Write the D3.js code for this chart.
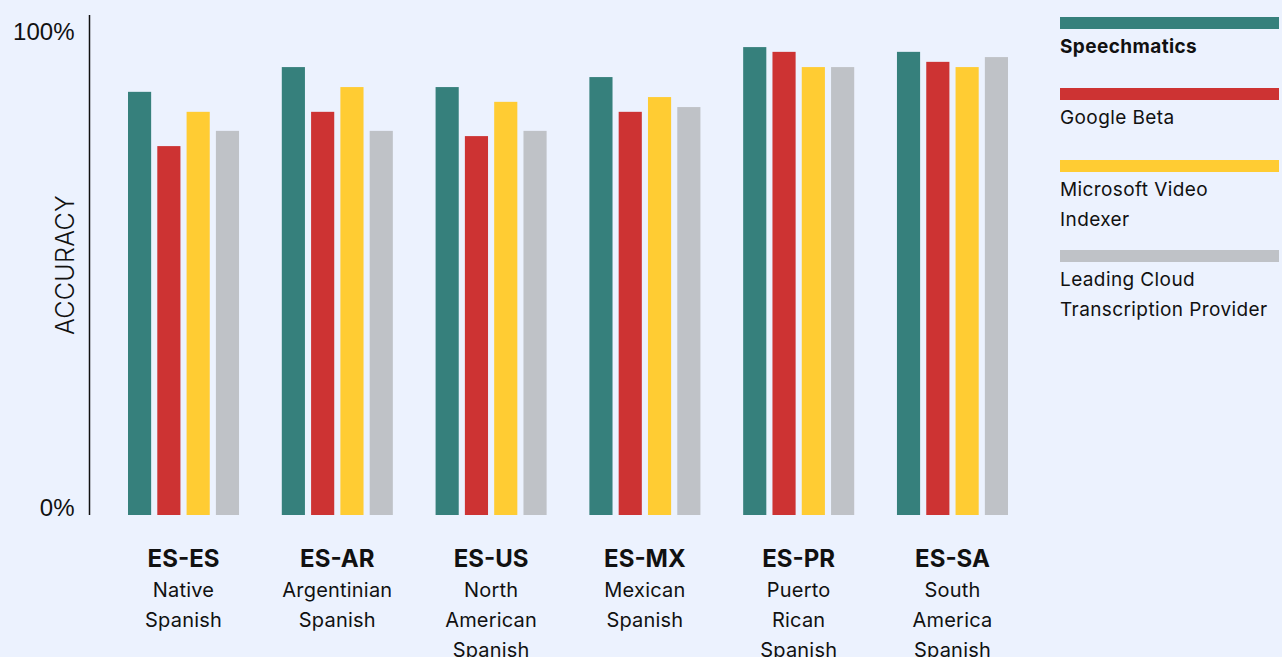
<!DOCTYPE html>
<html>
<head>
<meta charset="utf-8">
<script src="https://cdn.jsdelivr.net/npm/d3@7"></script>
<style>
  body { margin: 0; background: #ecf2fe; }
  svg { display: block; font-family: Inter, "Noto Sans", sans-serif; }
  .tick-label { font-size: 24px; font-weight: 300; fill: #111; }
  .axis-title { font-size: 25px; font-weight: 300; fill: #111; letter-spacing: 0.3px; }
  .code { font-size: 24px; font-weight: 700; fill: #111; }
  .sub { font-size: 20px; fill: #111; letter-spacing: 0.2px; }
  .legend { font-size: 19px; fill: #111; letter-spacing: 0.4px; }
</style>
</head>
<body>
<svg width="1282" height="657"></svg>
<script>

// dialect codes and their names
var codes = ["ES-ES", "ES-AR", "ES-US", "ES-MX", "ES-PR", "ES-SA"];
var names = [
  ["Native", "Spanish"],
  ["Argentinian", "Spanish"],
  ["North", "American", "Spanish"],
  ["Mexican", "Spanish"],
  ["Puerto", "Rican", "Spanish"],
  ["South", "America", "Spanish"]
];

// series, accuracy in percent
var providers = ["Speechmatics", "Google Beta", "Microsoft Video Indexer", "Leading Cloud Transcription Provider"];
var legendLines = [["Speechmatics"], ["Google Beta"], ["Microsoft Video", "Indexer"], ["Leading Cloud", "Transcription Provider"]];
var speechmatics = [88.9, 94.1, 89.9, 92.0, 98.3, 97.3];
var googleBeta   = [77.5, 84.7, 79.6, 84.7, 97.3, 95.2];
var microsoft    = [84.7, 89.9, 86.8, 87.8, 94.1, 94.1];
var leadingCloud = [80.7, 80.7, 80.7, 85.7, 94.1, 96.2];
var colors = ["#36807c", "#cd3333", "#ffcc33", "#bfc2c7"];

var yTicks = [0, 100];

var series = [speechmatics, googleBeta, microsoft, leadingCloud];

var svg = d3.select("svg");

// scales
var x0 = d3.scaleBand()
    .domain(codes)
    .range([128, 1008])
    .paddingInner(0.278)
    .paddingOuter(0);

var x1 = d3.scaleBand()
    .domain(d3.range(providers.length))
    .range([0, x0.bandwidth()])
    .paddingInner(0.21);

var y = d3.scaleLinear()
    .domain([0, 100])
    .range([515, 39]);

// bars
var groups = svg.selectAll(".group")
  .data(codes)
  .enter()
    .append("g")
    .attr("class", "group")
    .attr("transform", function(d) { return "translate(" + x0(d) + ",0)"; });

groups.selectAll("rect")
  .data(function(d, i) {
    return series.map(function(s, j) { return {k: j, v: s[i]}; });
  })
  .enter()
    .append("rect")
    .attr("x", function(d) { return x1(d.k); })
    .attr("y", function(d) { return y(d.v); })
    .attr("width", x1.bandwidth())
    .attr("height", function(d) { return y(0) - y(d.v); })
    .attr("fill", function(d) { return colors[d.k]; });

// y axis
var yAxis = d3.axisLeft(y)
    .tickValues(yTicks)
    .tickSize(0)
    .tickPadding(15)
    .tickFormat(function(d) { return d + "%"; });

var axisG = svg.append("g")
    .attr("transform", "translate(89.5,0)")
    .call(yAxis);

axisG.select(".domain").remove();
axisG.selectAll("text")
    .attr("class", "tick-label")
    .attr("dy", "0")
    .attr("font-family", null)
    .attr("font-size", null);

axisG.append("line")
    .attr("y1", 15)
    .attr("y2", y(0))
    .attr("stroke", "#111")
    .attr("stroke-width", 1.5);

// y axis label
svg.append("text")
    .attr("class", "axis-title")
    .attr("transform", "translate(74,265) rotate(-90)")
    .attr("text-anchor", "middle")
    .text("ACCURACY");

// category labels
var labels = svg.selectAll(".cat")
  .data(codes)
  .enter()
    .append("text")
    .attr("class", "cat")
    .attr("text-anchor", "middle")
    .attr("transform", function(d) { return "translate(" + (x0(d) + x0.bandwidth() / 2) + ",0)"; });

labels.append("tspan")
    .attr("class", "code")
    .attr("x", 0)
    .attr("y", 567)
    .text(function(d) { return d; });

labels.each(function(d, i) {
  var t = d3.select(this);
  names[i].forEach(function(line, j) {
    t.append("tspan")
      .attr("class", "sub")
      .attr("x", 0)
      .attr("y", 597 + j * 30)
      .text(line);
  });
});

// legend
var legendTop = [17, 88, 160, 250];
var legend = svg.selectAll(".legend-item")
  .data(providers)
  .enter()
    .append("g")
    .attr("transform", function(d, i) { return "translate(1060," + legendTop[i] + ")"; });

legend.append("rect")
    .attr("width", 219)
    .attr("height", 12)
    .attr("fill", function(d, i) { return colors[i]; });

legend.each(function(d, i) {
  var g = d3.select(this);
  legendLines[i].forEach(function(line, j) {
    g.append("text")
      .attr("class", "legend")
      .attr("x", 0)
      .attr("y", 36 + j * 30)
      .attr("font-weight", i == 0 ? 700 : 400)
      .text(line);
  });
});

</script>
</body>
</html>
